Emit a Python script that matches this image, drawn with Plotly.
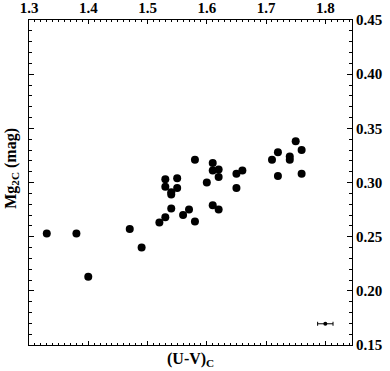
import plotly.graph_objects as go

# (U-V)_C colour and Mg2C index of each galaxy
uv_c = [1.330, 1.380, 1.400, 1.470, 1.490, 1.520, 1.530, 1.540, 1.530, 1.530,
        1.550, 1.550, 1.540, 1.540, 1.560, 1.570, 1.580, 1.580, 1.600, 1.610,
        1.610, 1.620, 1.620, 1.610, 1.620, 1.650, 1.660, 1.650, 1.710, 1.720,
        1.720, 1.740, 1.740, 1.750, 1.760, 1.760]
mg2c = [0.253, 0.253, 0.213, 0.257, 0.240, 0.263, 0.268, 0.276, 0.296, 0.303,
        0.304, 0.295, 0.291, 0.289, 0.270, 0.275, 0.264, 0.321, 0.300, 0.318,
        0.311, 0.312, 0.305, 0.279, 0.275, 0.308, 0.311, 0.295, 0.321, 0.328,
        0.306, 0.324, 0.321, 0.338, 0.330, 0.308]

# typical error shown in the corner
err_x = [1.800]
err_y = [0.1696]
err_dx = [0.013]

x_ticks = [1.3, 1.4, 1.5, 1.6, 1.7, 1.8]
x_labels = ["1.3", "1.4", "1.5", "1.6", "1.7", "1.8"]
y_ticks = [0.15, 0.20, 0.25, 0.30, 0.35, 0.40, 0.45]
y_labels = ["0.15", "0.20", "0.25", "0.30", "0.35", "0.40", "0.45"]

font = "Liberation Serif"

fig = go.Figure()
fig.add_trace(go.Scatter(
    x=uv_c, y=mg2c, mode="markers",
    marker=dict(color="black", size=8),
    showlegend=False,
))
fig.add_trace(go.Scatter(
    x=err_x, y=err_y, mode="markers",
    marker=dict(color="black", size=4),
    error_x=dict(type="data", array=err_dx, color="black", thickness=1, width=2),
    showlegend=False,
))

fig.update_layout(
    width=390, height=371,
    margin=dict(l=29, r=38, t=20, b=26),
    plot_bgcolor="white", paper_bgcolor="white",
    font=dict(family=font, color="black"),
)
fig.update_xaxes(
    range=[1.3, 1.845], side="top", automargin=False,
    tickvals=x_ticks, ticktext=["<b>%s</b>" % t for t in x_labels],
    ticks="inside", ticklen=4, tickwidth=1, tickcolor="black",
    minor=dict(dtick=0.01, ticks="inside", ticklen=2, tickcolor="black"),
    showline=True, linecolor="black", linewidth=1, mirror="allticks",
    showgrid=False, zeroline=False,
    tickfont=dict(family=font, size=15),
)
fig.update_yaxes(
    range=[0.15, 0.45], side="right", automargin=False,
    tickvals=y_ticks, ticktext=["<b>%s</b>" % t for t in y_labels],
    ticks="inside", ticklen=5, tickwidth=1, tickcolor="black",
    minor=dict(dtick=0.01, ticks="inside", ticklen=3, tickcolor="black"),
    showline=True, linecolor="black", linewidth=1, mirror="allticks",
    showgrid=False, zeroline=False,
    tickfont=dict(family=font, size=15),
)

fig.add_annotation(
    text="<b>(U-V)<sub>C</sub></b>", xref="paper", yref="paper",
    x=0.5, y=-0.046, xanchor="center", yanchor="middle", showarrow=False,
    font=dict(family=font, size=16),
)
fig.add_annotation(
    text="<b>Mg<sub>2C</sub> (mag)</b>", xref="paper", yref="paper",
    x=-0.053, y=0.545, xanchor="center", yanchor="middle", showarrow=False,
    textangle=-90, font=dict(family=font, size=16),
)

fig.write_html("out.html", config={"displayModeBar": False},
               post_script="document.body.style.margin='0';")
